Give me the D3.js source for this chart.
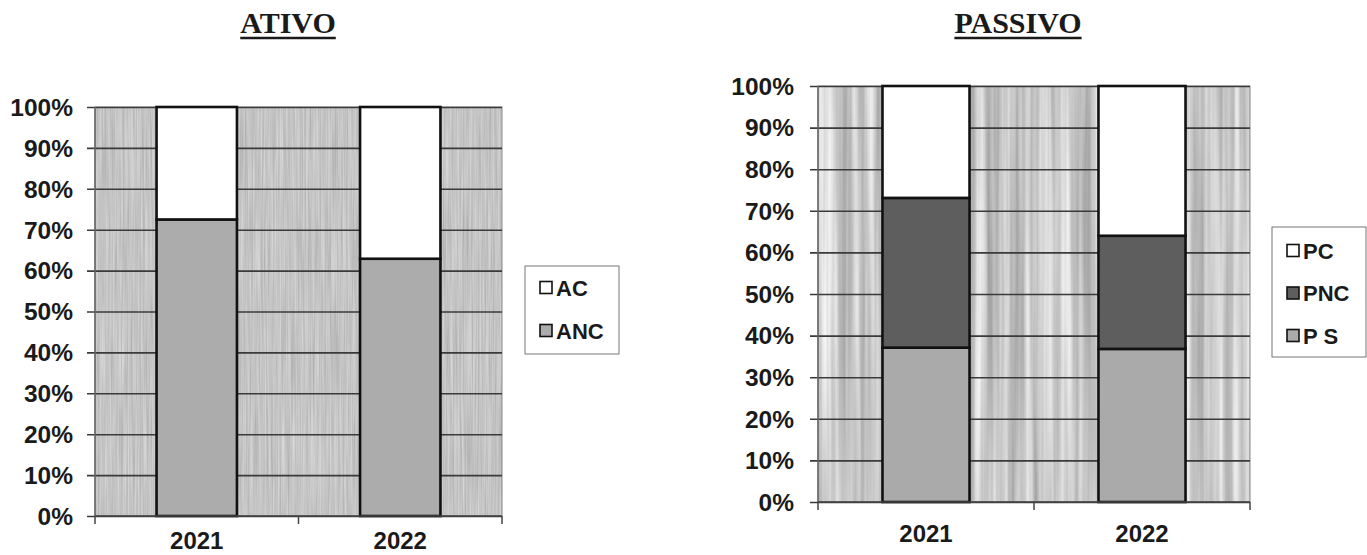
<!DOCTYPE html>
<html>
<head>
<meta charset="utf-8">
<script src="https://cdn.jsdelivr.net/npm/d3@7"></script>
<style>
  html, body { margin: 0; padding: 0; background: #ffffff; }
  svg { display: block; }
</style>
</head>
<body>
<svg id="chart" width="1367" height="555"></svg>
<script>
// ---------- DATA ----------
const years = ["2021", "2022"];
const yTicks = [0, 10, 20, 30, 40, 50, 60, 70, 80, 90, 100];

// ATIVO (stack order bottom -> top)
const ativoSeries = ["ANC", "AC"];
const ancValues = [72.5, 62.9];
const acValues  = [27.5, 37.1];

// PASSIVO (stack order bottom -> top)
const passivoSeries = ["P S", "PNC", "PC"];
const psValues  = [37.1, 36.8];
const pncValues = [36.0, 27.2];
const pcValues  = [26.9, 36.0];

// ---------- DRAWING ----------
const svg = d3.select("#chart");
const defs = svg.append("defs");

function makeTexture(id, freq, gain, offset) {
  const f = defs.append("filter").attr("id", id)
    .attr("x", 0).attr("y", 0).attr("width", 1).attr("height", 1)
    .attr("color-interpolation-filters", "sRGB");
  f.append("feTurbulence").attr("type", "fractalNoise")
    .attr("baseFrequency", freq).attr("numOctaves", 3).attr("seed", 3).attr("result", "n");
  f.append("feColorMatrix").attr("in", "n").attr("type", "matrix")
    .attr("values", `${gain} 0 0 0 ${offset}  ${gain} 0 0 0 ${offset}  ${gain} 0 0 0 ${offset}  0 0 0 0 1`)
    .attr("result", "g");
  f.append("feComposite").attr("in", "g").attr("in2", "SourceGraphic").attr("operator", "in");
}
makeTexture("texA", "0.6 0.01", 0.22, 0.66);
makeTexture("texP", "0.12 0.002", 0.5, 0.54);

const SANS = "Liberation Sans, Arial, sans-serif";

function drawChart(opts) {
  const { x0, x1, y0, y1, title, titleX, labelRight, series, values, colors,
          barFrac, legend, texture, xLabelDy } = opts;
  const g = svg.append("g");

  const x = d3.scaleBand().domain(years).range([x0, x1]).paddingInner(0).paddingOuter(0);
  const y = d3.scaleLinear().domain([0, 100]).range([y1, y0]);

  // Plot background
  g.append("rect").attr("x", x0).attr("y", y0).attr("width", x1 - x0).attr("height", y1 - y0)
    .attr("fill", "#c4c4c4");
  g.append("rect").attr("x", x0).attr("y", y0).attr("width", x1 - x0).attr("height", y1 - y0)
    .attr("fill", "#c4c4c4").attr("filter", `url(#${texture})`);
  g.append("rect").attr("x", x0).attr("y", y0).attr("width", x1 - x0).attr("height", y1 - y0)
    .attr("fill", "none").attr("stroke", "#8a8a8a").attr("stroke-width", 1);

  // Gridlines + left ticks
  const ya = g.append("g").attr("transform", `translate(${x1},0)`);
  ya.call(d3.axisLeft(y).tickValues(yTicks).tickSize(x1 - x0 + 8).tickFormat(""));
  ya.select(".domain").remove();
  ya.selectAll(".tick line").attr("stroke", "#3a3a3a").attr("stroke-width", 1.6);

  // left axis line
  g.append("line").attr("x1", x0).attr("x2", x0).attr("y1", y0).attr("y2", y1)
    .attr("stroke", "#666").attr("stroke-width", 1.5);

  // Y labels
  g.selectAll(".ylab").data(yTicks).enter().append("text")
    .attr("x", labelRight).attr("y", d => y(d)).attr("dy", "0.36em")
    .attr("text-anchor", "end")
    .attr("font-family", SANS)
    .attr("font-weight", "bold").attr("font-size", 24.5).attr("fill", "#1a1a1a")
    .text(d => d + "%");

  // Stacked bars
  const rows = years.map((yr, i) => {
    const r = { year: yr };
    series.forEach((s, k) => r[s] = values[k][i]);
    return r;
  });
  const stack = d3.stack().keys(series)(rows);
  const bw = x.bandwidth() * barFrac;
  stack.forEach((layer, k) => {
    g.selectAll(null).data(layer).enter().append("rect")
      .attr("x", d => x(d.data.year) + (x.bandwidth() - bw) / 2)
      .attr("y", d => y(d[1]))
      .attr("width", bw)
      .attr("height", d => y(d[0]) - y(d[1]))
      .attr("fill", colors[k])
      .attr("stroke", "#111").attr("stroke-width", 2.6);
  });

  // X axis
  const xa = g.append("g").attr("transform", `translate(0,${y1})`);
  xa.append("line").attr("x1", x0).attr("x2", x1).attr("stroke", "#444").attr("stroke-width", 1.5);
  const bTicks = [x0].concat(years.map(yr => x(yr) + x.bandwidth()));
  xa.selectAll(".xt").data(bTicks).enter().append("line")
    .attr("x1", d => d).attr("x2", d => d).attr("y1", 0).attr("y2", 8)
    .attr("stroke", "#444").attr("stroke-width", 1.5);
  xa.selectAll(".xl").data(years).enter().append("text")
    .attr("x", d => x(d) + x.bandwidth() / 2).attr("y", xLabelDy)
    .attr("text-anchor", "middle")
    .attr("font-family", SANS)
    .attr("font-weight", "bold").attr("font-size", 24).attr("fill", "#1a1a1a")
    .text(d => d);

  // Title
  const t = g.append("text").attr("x", titleX).attr("y", 33)
    .attr("text-anchor", "middle")
    .attr("font-family", "Liberation Serif, Times New Roman, serif")
    .attr("font-weight", "bold").attr("font-size", 30).attr("fill", "#1a1a1a")
    .text(title);
  const tw = t.node().getComputedTextLength();
  g.append("line").attr("x1", titleX - tw / 2).attr("x2", titleX + tw / 2)
    .attr("y1", 38).attr("y2", 38).attr("stroke", "#1a1a1a").attr("stroke-width", 2.4);

  // Legend (top to bottom shows reverse of stack order)
  const lg = g.append("g");
  lg.append("rect").attr("x", legend.x).attr("y", legend.y).attr("width", legend.w).attr("height", legend.h)
    .attr("fill", "#ffffff").attr("stroke", "#777").attr("stroke-width", 1);
  const items = series.map((s, k) => ({ s, c: colors[k] })).reverse();
  items.forEach((it, i) => {
    const cy = legend.firstY + i * legend.step;
    lg.append("rect").attr("x", legend.x + 15).attr("y", cy - 6.5).attr("width", 12).attr("height", 12)
      .attr("fill", it.c).attr("stroke", "#111").attr("stroke-width", 1.6);
    lg.append("text").attr("x", legend.x + 31).attr("y", cy).attr("dy", "0.36em")
      .attr("font-family", SANS)
      .attr("font-weight", "bold").attr("font-size", 22).attr("fill", "#1a1a1a")
      .text(it.s);
  });
}

drawChart({
  x0: 95, x1: 502, y0: 107, y1: 516,
  title: "ATIVO", titleX: 288, labelRight: 73,
  series: ativoSeries, values: [ancValues, acValues],
  colors: ["#acacac", "#ffffff"], barFrac: 0.395, texture: "texA", xLabelDy: 33,
  legend: { x: 525, y: 266, w: 94, h: 88, firstY: 288, step: 43 }
});

drawChart({
  x0: 818, x1: 1250, y0: 86, y1: 502,
  title: "PASSIVO", titleX: 1018, labelRight: 794,
  series: passivoSeries, values: [psValues, pncValues, pcValues],
  colors: ["#aaaaaa", "#5e5e5e", "#ffffff"], barFrac: 0.403, texture: "texP", xLabelDy: 40,
  legend: { x: 1272, y: 227, w: 94, h: 130, firstY: 251, step: 42.5 }
});
</script>
</body>
</html>
